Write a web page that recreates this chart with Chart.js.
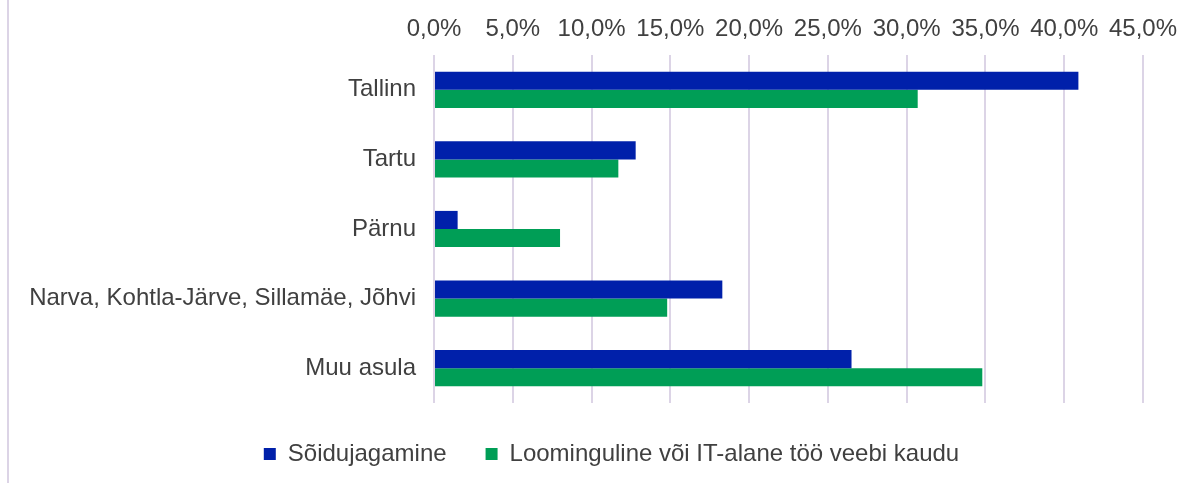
<!DOCTYPE html>
<html>
<head>
<meta charset="utf-8">
<script src="https://cdn.jsdelivr.net/npm/chart.js@4/dist/chart.umd.min.js"></script>
<style>
  html, body { margin: 0; padding: 0; background: #fff; }
  #wrap { position: relative; width: 1191px; height: 483px; }
</style>
</head>
<body>
<div id="wrap"><canvas id="c" width="1191" height="483"></canvas></div>
<script>
const categories = ['Tallinn', 'Tartu', 'Pärnu', 'Narva, Kohtla-Järve, Sillamäe, Jõhvi', 'Muu asula'];
const seriesNames = ['Sõidujagamine', 'Loominguline või IT-alane töö veebi kaudu'];
const rideSharing = [40.9, 12.8, 1.5, 18.3, 26.5];
const creativeIT = [30.7, 11.7, 8.0, 14.8, 34.8];
const xTickLabels = ['0,0%', '5,0%', '10,0%', '15,0%', '20,0%', '25,0%', '30,0%', '35,0%', '40,0%', '45,0%'];

const FONT = "'Liberation Sans', Arial, sans-serif";
const TEXT = '#404040';
const GRID = '#DCD4E6';

const leftBorder = {
  id: 'leftBorder',
  beforeDraw(chart) {
    const ctx = chart.ctx;
    ctx.save();
    ctx.fillStyle = GRID;
    ctx.fillRect(7, 0, 2, chart.height);
    ctx.restore();
  }
};

const legendShift = {
  id: 'legendShift',
  afterLayout(chart) {
    if (chart.legend) {
      chart.legend.left = 80;
      chart.legend.right = 1143;
    }
  }
};

new Chart(document.getElementById('c'), {
  type: 'bar',
  data: {
    labels: categories,
    datasets: [
      { label: seriesNames[0], data: rideSharing, backgroundColor: '#0020AA', categoryPercentage: 0.52, barPercentage: 1.0 },
      { label: seriesNames[1], data: creativeIT, backgroundColor: '#009E56', categoryPercentage: 0.52, barPercentage: 1.0 }
    ]
  },
  options: {
    indexAxis: 'y',
    responsive: false,
    animation: false,
    devicePixelRatio: 1,
    layout: { padding: { left: 14, right: 48, top: 0, bottom: 7 } },
    scales: {
      x: {
        position: 'top',
        min: 0,
        max: 45,
        ticks: {
          stepSize: 5,
          padding: 11,
          color: TEXT,
          font: { family: FONT, size: 24 },
          callback: (v, i) => xTickLabels[i]
        },
        grid: { color: GRID, lineWidth: 2, drawTicks: false },
        border: { display: false },
        afterFit(scale) { scale.height = 55; }
      },
      y: {
        ticks: {
          padding: 18,
          color: TEXT,
          font: { family: FONT, size: 24 }
        },
        grid: { display: false, drawTicks: false },
        border: { display: false },
        afterFit(scale) { scale.width = 434 - 14; }
      }
    },
    plugins: {
      legend: {
        position: 'bottom',
        labels: {
          boxWidth: 12,
          boxHeight: 12,
          padding: 39,
          color: TEXT,
          font: { family: FONT, size: 24 }
        }
      },
      tooltip: { enabled: false }
    }
  },
  plugins: [leftBorder, legendShift]
});
</script>
</body>
</html>
